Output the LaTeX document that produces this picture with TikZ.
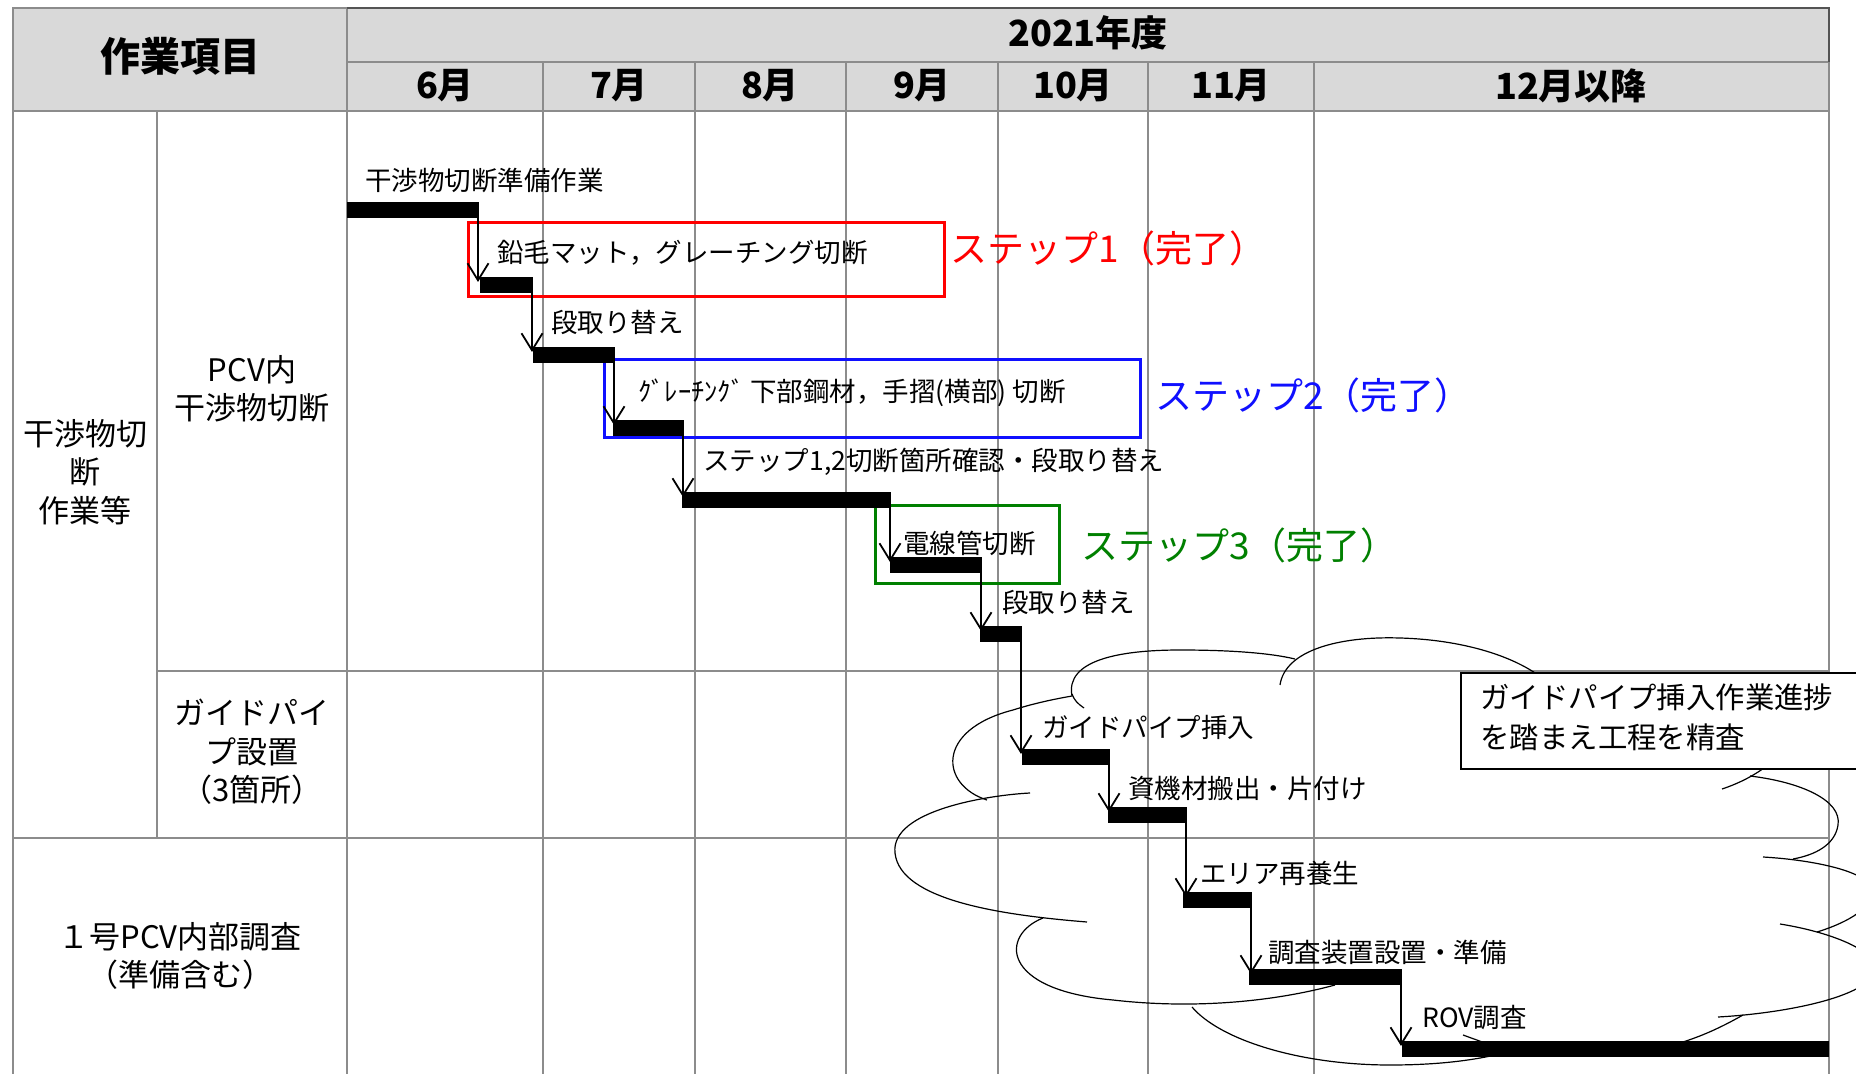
\documentclass[tikz,border=0pt]{standalone}
\usepackage{fontspec}
\setmainfont{Noto Sans CJK JP}
\usetikzlibrary{arrows.meta,calc}
\definecolor{gridgray}{HTML}{8C8C8C}
\definecolor{hdrfill}{HTML}{D9D9D9}
\definecolor{stepred}{HTML}{FF0000}
\definecolor{stepblue}{HTML}{1010FF}
\definecolor{stepgreen}{HTML}{008000}
\begin{document}
\begin{tikzpicture}[x=0.5pt,y=-0.5pt,
  gridline/.style={draw=gridgray, line width=1.4pt},
  gbar/.style={fill=black, inner sep=0pt, outer sep=0pt, anchor=north west, minimum height=8pt},
  arr/.style={line width=0.9pt, -{Straight Barb[length=8.5pt,width=10.5pt,line width=0.9pt]}},
  lbl/.style={inner sep=0pt, anchor=west, font=\fontsize{13.25}{16}\selectfont},
  steplbl/.style={inner sep=0pt, anchor=west, font=\fontsize{18.5}{22}\selectfont},
  stepbox/.style={line width=1.4pt, inner sep=0pt, anchor=north west},
  rowlbl/.style={inner sep=0pt, align=center, font=\fontsize{15.5}{19.25}\selectfont},
  hdr/.style={inner sep=0pt, font=\bfseries\fontsize{18}{22}\selectfont},
  cloudline/.style={line width=0.6pt, draw=black},
]
\useasboundingbox (0,0) rectangle (1856,1074);
\clip (0,0) rectangle (1856,1074);
\fill[white] (0,0) rectangle (1856,1074);

% header
\fill[hdrfill] (13,8) rectangle (1829,111);
\draw[gridline] (13,8) rectangle (347,111);
\draw[gridline] (347,62) -- (1829,62);
\draw[gridline] (13,111) -- (1829,111);
% verticals
\draw[gridline] (13,8) -- (13,1080);
\draw[gridline] (347,8) -- (347,1080);
\foreach \xx in {543,695,846,998,1148,1314} {\draw[gridline] (\xx,62) -- (\xx,1080);}
\draw[gridline] (1829,8) -- (1829,1080);
\draw[gridline] (157,111) -- (157,838);
\draw[gridline] (157,671) -- (1829,671);
\draw[gridline] (13,838) -- (1829,838);
\draw[line width=1.4pt, draw=gridgray!60!black] (347,8) -- (1829,8) -- (1829,62);

% header texts
\node[hdr, font=\bfseries\fontsize{20}{24}\selectfont] (hitem) at (180,56) {作業項目};
\node[hdr] (hyear) at (1088,33) {2021年度};
\node[hdr] (m6) at (445,86) {6月};
\node[hdr] (m7) at (619,86) {7月};
\node[hdr] (m8) at (770,86) {8月};
\node[hdr] (m9) at (922,86) {9月};
\node[hdr] (m10) at (1073,86) {10月};
\node[hdr] (m11) at (1231,86) {11月};
\node[hdr] (m12) at (1571,86) {12月以降};

% row labels
\node[rowlbl] (r1) at (85,472) {干渉物切\\断\\作業等};
\node[rowlbl] (r2) at (252,389) {PCV内\\干渉物切断};
\node[rowlbl] (r3) at (252,752) {ガイドパイ\\プ設置\\（3箇所）};
\node[rowlbl] (r4) at (180,956) {１号PCV内部調査\\（準備含む）};

% cloud
\draw[cloudline] (987,800) .. controls (940,785) and (935,730) .. (1013,710) .. controls (1035,703) and (1055,699) .. (1072,696) .. controls (1065,660) and (1120,650) .. (1180,650) .. controls (1230,650) and (1270,653) .. (1295,659);
\draw[cloudline] (1280,685) .. controls (1285,650) and (1340,636) .. (1400,638) .. controls (1470,640) and (1525,660) .. (1550,685);
\draw[cloudline] (1072,694) .. controls (1074,700) and (1078,704) .. (1084,708);
\draw[cloudline] (1087,922) .. controls (1000,915) and (900,900) .. (895,853) .. controls (890,810) and (990,795) .. (1030,793);
\draw[cloudline] (1043,918) .. controls (1000,935) and (1000,990) .. (1113,1000) .. controls (1200,1010) and (1280,1000) .. (1335,985);
\draw[cloudline] (1192,1007) .. controls (1220,1040) and (1300,1065) .. (1390,1065) .. controls (1440,1065) and (1480,1060) .. (1515,1050);
\draw[cloudline] (1463,1035) -- (1485,1043);
\draw[cloudline] (1743,1015) .. controls (1720,1028) and (1690,1043) .. (1650,1050);
\draw[cloudline] (1780,924) .. controls (1830,932) and (1875,950) .. (1875,968) .. controls (1875,995) and (1790,1013) .. (1718,1017);
\draw[cloudline] (1763,857) .. controls (1815,860) and (1870,872) .. (1872,890) .. controls (1874,910) and (1840,925) .. (1817,932);
\draw[cloudline] (1750,776) .. controls (1800,782) and (1842,800) .. (1838,825) .. controls (1835,845) and (1815,855) .. (1793,859);
\draw[cloudline] (1722,789) .. controls (1740,783) and (1755,775) .. (1768,765);

% step boxes
\node[stepbox, draw=stepred, minimum width=238pt, minimum height=37pt] (redbox) at (467,221) {};
\node[stepbox, draw=stepblue, minimum width=268pt, minimum height=39pt] (bluebox) at (603,358) {};
\node[stepbox, draw=stepgreen, minimum width=92pt, minimum height=39pt] (greenbox) at (874,504) {};

% bars
\node[gbar, minimum width=66pt] (b1) at (347,202) {};
\node[gbar, minimum width=26.5pt] (b2) at (480,277) {};
\node[gbar, minimum width=41pt] (b3) at (533,347) {};
\node[gbar, minimum width=35.5pt] (b4) at (613,420) {};
\node[gbar, minimum width=104.5pt] (b5) at (682,492) {};
\node[gbar, minimum width=46pt] (b6) at (890,557) {};
\node[gbar, minimum width=21pt] (b7) at (980,626) {};
\node[gbar, minimum width=44pt] (b8) at (1022,749) {};
\node[gbar, minimum width=39.5pt] (b9) at (1108,807) {};
\node[gbar, minimum width=34.5pt] (b10) at (1183,892) {};
\node[gbar, minimum width=76.5pt] (b11) at (1249,969) {};
\node[gbar, minimum width=213.5pt] (b12) at (1402,1041) {};

% arrows
\foreach \a/\b in {b1/b2,b2/b3,b3/b4,b4/b5,b5/b6,b6/b7,b7/b8,b8/b9,b9/b10,b10/b11,b11/b12} {
  \draw[arr] ([xshift=-0.5pt]\a.east) -- ($([xshift=-0.5pt]\a.east |- \b.north)+(0,5)$);
}

% task labels
\node[lbl] (t1) at (365,180) {干渉物切断準備作業};
\node[lbl] (t2) at (497,253) {鉛毛マット，グレーチング切断};
\node[lbl] (t3) at (551,322) {段取り替え};
\node[lbl] (t4) at (638,393) {ｸﾞﾚｰﾁﾝｸﾞ 下部鋼材，手摺(横部) 切断};
\node[lbl] (t5) at (703,462) {ステップ1,2切断箇所確認・段取り替え};
\node[lbl] (t6) at (903,543) {電線管切断};
\node[lbl] (t7) at (1002,602) {段取り替え};
\node[lbl] (t8) at (1042,727) {ガイドパイプ挿入};
\node[lbl] (t9) at (1128,788) {資機材搬出・片付け};
\node[lbl] (t10) at (1200,873) {エリア再養生};
\node[lbl] (t11) at (1268,952) {調査装置設置・準備};
\node[lbl] (t12) at (1422,1018) {ROV調査};

% step labels
\node[steplbl, text=stepred] (s1) at (950,248) {ステップ1（完了）};
\node[steplbl, text=stepblue] (s2) at (1155,395) {ステップ2（完了）};
\node[steplbl, text=stepgreen] (s3) at (1081,545) {ステップ3（完了）};

% note box
\node[draw=black, line width=1pt, fill=white, inner sep=0pt, anchor=north west, minimum width=215pt, minimum height=48pt] (note) at (1460,672) {};
\node[inner sep=0pt, anchor=west, align=left, font=\fontsize{14.7}{20}\selectfont] (notetxt) at (1480,717) {ガイドパイプ挿入作業進捗\\を踏まえ工程を精査};
\end{tikzpicture}
\end{document}
